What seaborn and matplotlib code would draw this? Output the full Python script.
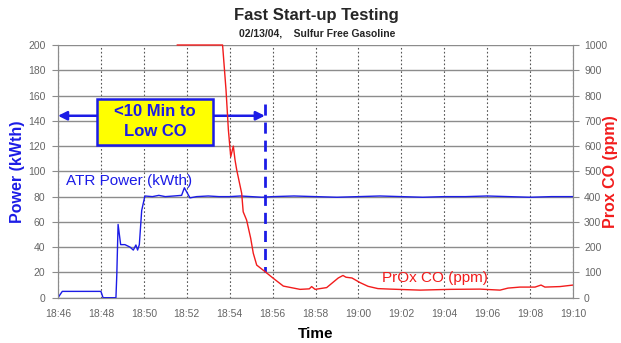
import numpy as np
import pandas as pd
import matplotlib
matplotlib.use("Agg")
import matplotlib.pyplot as plt
from matplotlib.patches import Rectangle
import seaborn as sns

# ---------------------------------------------------------------------------
# data (minutes after 18:46)
# ---------------------------------------------------------------------------
atr_min = [0.0, 0.2, 2.0, 2.1, 2.7, 2.74, 2.8, 2.92, 3.12, 3.36, 3.51, 3.63,
           3.71, 3.79, 3.9, 4.05, 4.4, 4.7, 5.0, 5.4, 5.76, 5.89, 6.15, 6.46,
           7.0, 7.5, 8.0, 8.5, 9.0, 9.5, 10.0, 11.0, 12.0, 13.0, 14.0, 15.0,
           16.0, 17.0, 18.0, 19.0, 20.0, 21.0, 22.0, 23.0, 24.0]
atr_kwth = [0, 5, 5, 0, 0, 18, 58, 42, 42, 40, 37.7, 41.7,
            37.7, 42, 69, 80.5, 80, 81, 80, 80.5, 81, 87, 79, 80,
            80.5, 80, 80, 80.5, 80, 79.5, 80, 80.5, 80, 79.5, 80, 80.5,
            80, 79.5, 80, 80, 80.5, 80, 79.5, 80, 80]

co_min = [5.55, 7.67, 7.83, 7.94, 8.05, 8.17, 8.25, 8.33, 8.56, 8.63, 8.79,
          8.98, 9.10, 9.26, 9.65, 10.03, 10.50, 11.28, 11.71, 11.82, 11.98,
          12.52, 13.06, 13.28, 13.42, 13.70, 14.07, 14.45, 14.91, 15.47,
          16.87, 18.27, 19.66, 20.60, 20.97, 21.53, 22.23, 22.51, 22.69,
          23.39, 24.0]
co_ppm = [1000, 1000, 822, 664, 558, 600, 545, 505, 413, 340, 307,
          235, 176, 129, 103, 77, 46, 33, 35, 44, 33,
          40, 78, 88, 81, 78, 60, 45, 36, 34,
          30, 33, 34, 30, 38, 42, 42, 50, 42,
          44, 50]

tick_min = list(range(0, 25, 2))
tick_labels = ["18:46", "18:48", "18:50", "18:52", "18:54", "18:56", "18:58",
               "19:00", "19:02", "19:04", "19:06", "19:08", "19:10"]

LOW_CO_MIN = 9.64      # time CO reached low level
ARROW_KWTH = 144

atr = pd.DataFrame({"t": atr_min, "p": atr_kwth})
co = pd.DataFrame({"t": co_min, "c": co_ppm})

BLUE = "#1c1ce6"
RED = "#f21c1c"
GRAY = "#666666"

sns.set_style("white")
plt.rcParams["font.family"] = ["Liberation Sans", "DejaVu Sans"]

fig = plt.figure(figsize=(6.21, 3.43), dpi=100)
ax = fig.add_axes([58 / 621, 45.3 / 343, 515 / 621, 252.7 / 343])
ax2 = ax.twinx()

sns.lineplot(data=atr, x="t", y="p", ax=ax, color=BLUE, lw=1.0, zorder=4)
sns.lineplot(data=co, x="t", y="c", ax=ax2, color=RED, lw=1.0, clip_on=False)

ax.set_xlim(0, 24)
ax.set_ylim(0, 200)
ax2.set_ylim(0, 1000)
ax.set_xticks(tick_min)
ax.set_xticklabels(tick_labels)
ax.set_yticks(np.arange(0, 201, 20))
ax2.set_yticks(np.arange(0, 1001, 100))

ax.grid(axis="y", color="#8c8c8c", lw=1.0, ls="-")
ax.grid(axis="x", color="#555555", lw=0.8, ls=(0, (1.5, 2)))
ax.set_axisbelow(True)
ax2.grid(False)

for a in (ax, ax2):
    for s in a.spines.values():
        s.set_color("#8c8c8c")
    a.spines["top"].set_visible(False)
    a.tick_params(colors="#8c8c8c", labelcolor=GRAY, labelsize=7.5,
                  length=4, width=0.8, direction="out")
ax.tick_params(axis="x", pad=4)
ax.tick_params(axis="y", pad=5)
ax2.tick_params(axis="y", pad=4)

ax.set_xlabel("Time", fontsize=11, fontweight="bold", color="black", labelpad=6)
ax.set_ylabel("Power (kWth)", fontsize=11.5, fontweight="bold", color=BLUE)
ax2.set_ylabel("Prox CO (ppm)", fontsize=11.5, fontweight="bold", color=RED)
ax.yaxis.set_label_coords(-0.064, 0.5)
ax2.yaxis.set_label_coords(1.059, 0.5)

fig.text(0.51, 0.955, "Fast Start-up Testing", ha="center", va="center",
         fontsize=12, fontweight="bold")
fig.text(0.51, 0.903, "02/13/04,    Sulfur Free Gasoline", ha="center", va="center",
         fontsize=7.5, fontweight="bold")

# annotation: time to low CO
ax.plot([LOW_CO_MIN, LOW_CO_MIN], [153, 20], color=BLUE, lw=2, ls=(0, (4, 2.5)), zorder=5)
ax.annotate("", xy=(0, ARROW_KWTH), xytext=(LOW_CO_MIN, ARROW_KWTH),
            arrowprops=dict(arrowstyle="<|-|>", color=BLUE, lw=1.8,
                            mutation_scale=13, shrinkA=0, shrinkB=0), zorder=5)
ax.add_patch(Rectangle((1.82, 121), 5.41, 36.4, fc="#ffff00", ec=BLUE, lw=1.8, zorder=6))
ax.text(4.52, 139.2, "<10 Min to\nLow CO", ha="center", va="center",
        fontsize=12, fontweight="bold", color=BLUE, linespacing=1.4, zorder=7)

ax.text(0.35, 92, "ATR Power (kWth)", color=BLUE, fontsize=11, va="center", zorder=6)
ax2.text(15.08, 77, "PrOx CO (ppm)", color=RED, fontsize=11, va="center")

fig.savefig("out.png", dpi=100)
